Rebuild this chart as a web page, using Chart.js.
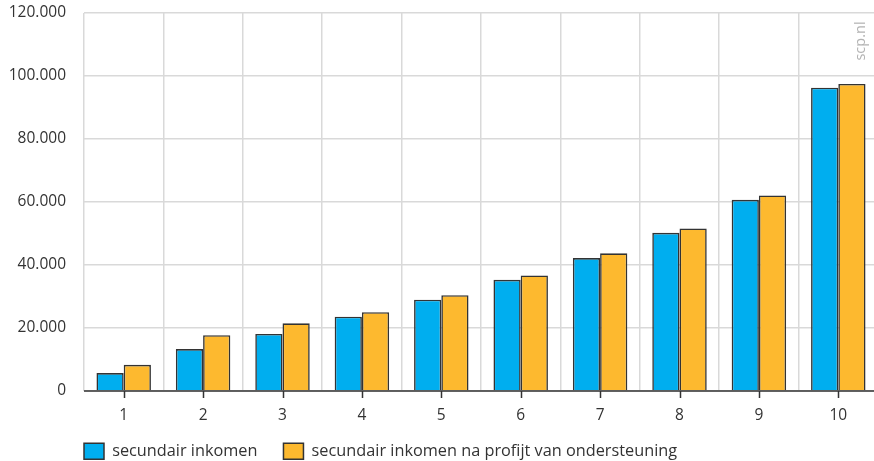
<!DOCTYPE html>
<html>
<head>
<meta charset="utf-8">
<script src="https://cdn.jsdelivr.net/npm/chart.js@4.4.1/dist/chart.umd.min.js"></script>
<style>
  html, body { margin: 0; padding: 0; background: #ffffff; overflow: hidden; }
  #wrap { position: relative; width: 878px; height: 461px; }
</style>
</head>
<body>
<div id="wrap"><canvas id="c"></canvas></div>
<script>
const categories = ['1', '2', '3', '4', '5', '6', '7', '8', '9', '10'];
const seriesNames = ['secundair inkomen', 'secundair inkomen na profijt van ondersteuning'];
const secundairInkomen = [5700, 13300, 18100, 23600, 29000, 35300, 42200, 50200, 60700, 96300];
const naProfijt = [8300, 17700, 21500, 25000, 30400, 36700, 43700, 51600, 62100, 97500];
const yTicks = [0, 20000, 40000, 60000, 80000, 100000, 120000];
const watermark = 'scp.nl';

const FONT = "'Open Sans'";
const TEXT = '#333333';
const GRID = '#d9d9d9';

function fmt(v) {
  return String(v).replace(/\B(?=(\d{3})+(?!\d))/g, '.');
}

const extras = {
  id: 'extras',
  afterLayout(chart) {
    const lg = chart.legend;
    if (lg) {
      lg.left = 84 - 26;
      lg.right = lg.left + lg.width;
      lg.top = 417;
      lg.bottom = 461;
      lg.height = 44;
    }
  },
  afterDatasetsDraw(chart) {
    const ctx = chart.ctx;
    const x = chart.scales.x;
    const area = chart.chartArea;
    ctx.save();
    ctx.strokeStyle = TEXT;
    ctx.lineWidth = 1.5;
    x.ticks.forEach((t, i) => {
      const px = Math.round(x.getPixelForTick(i)) + 0.5;
      ctx.beginPath();
      ctx.moveTo(px, area.bottom);
      ctx.lineTo(px, area.bottom + 7);
      ctx.stroke();
    });
    ctx.beginPath();
    ctx.moveTo(area.left, area.bottom);
    ctx.lineTo(area.right, area.bottom);
    ctx.stroke();
    ctx.translate(861, 41);
    ctx.rotate(-Math.PI / 2);
    ctx.fillStyle = '#b3b3b3';
    ctx.font = '14.5px ' + FONT;
    ctx.textAlign = 'center';
    ctx.textBaseline = 'middle';
    ctx.fillText(watermark, 0, 0);
    ctx.restore();
  }
};

new Chart(document.getElementById('c'), {
  type: 'bar',
  data: {
    labels: categories,
    datasets: [
      {
        label: seriesNames[0],
        data: secundairInkomen,
        backgroundColor: '#00aeef',
        borderColor: '#333333',
        borderWidth: 1.6
      },
      {
        label: seriesNames[1],
        data: naProfijt,
        backgroundColor: '#fdb92f',
        borderColor: '#333333',
        borderWidth: 1.6
      }
    ]
  },
  options: {
    responsive: true,
    maintainAspectRatio: false,
    animation: false,
    layout: { padding: { top: 13, left: 0, right: 0, bottom: 0 } },
    datasets: { bar: { categoryPercentage: 0.686, barPercentage: 1.0 } },
    plugins: {
      tooltip: { enabled: false },
      legend: {
        position: 'bottom',
        align: 'start',
        fullSize: false,
        maxHeight: 34,
        labels: {
          boxWidth: 20,
          boxHeight: 16,
          padding: 26,
          color: TEXT,
          font: { family: FONT, size: 16.3 },
          generateLabels(chart) {
            return chart.data.datasets.map((ds, i) => ({
              text: ds.label,
              fillStyle: ds.backgroundColor,
              strokeStyle: '#333333',
              lineWidth: 1.5,
              datasetIndex: i,
              fontColor: TEXT
            }));
          }
        }
      }
    },
    scales: {
      x: {
        offset: true,
        grid: { color: GRID, lineWidth: 1.5, drawTicks: false, offset: true },
        border: { display: false },
        ticks: { color: TEXT, font: { family: FONT, size: 15.5 }, padding: 15 },
        afterFit(axis) { axis.height = 36; axis.paddingTop = 0; axis.paddingBottom = 0; }
      },
      y: {
        min: 0,
        max: 120000,
        afterBuildTicks(axis) { axis.ticks = yTicks.map(v => ({ value: v })); },
        grid: { color: GRID, lineWidth: 1.5, drawTicks: false },
        border: { display: false },
        ticks: {
          color: TEXT,
          font: { family: FONT, size: 15.5 },
          padding: 18,
          callback: (v) => fmt(v)
        },
        afterFit(axis) { axis.width = 84; axis.paddingTop = 0; axis.paddingBottom = 0; }
      }
    }
  },
  plugins: [extras]
});
</script>
</body>
</html>
